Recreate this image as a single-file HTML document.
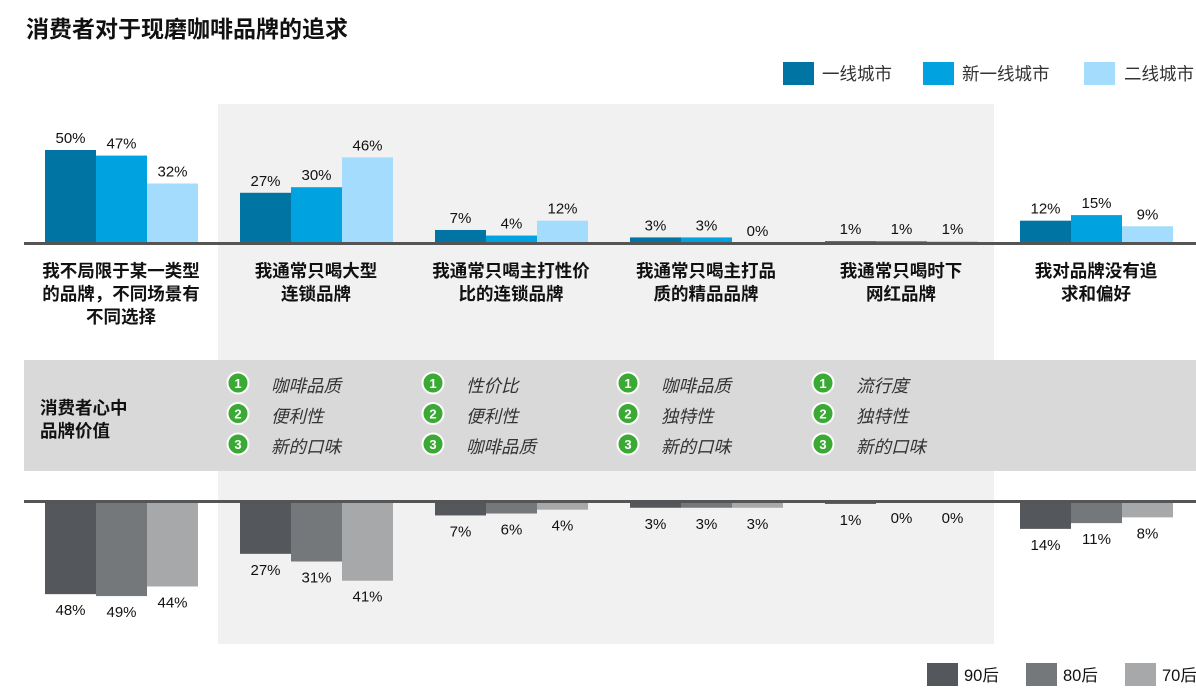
<!DOCTYPE html>
<html><head><meta charset="utf-8"><style>
html,body{margin:0;padding:0;background:#fff;}
svg{display:block;font-family:"Liberation Sans","Noto Sans CJK SC",sans-serif;}
</style></head><body>
<svg id="s" width="1196" height="700" xmlns="http://www.w3.org/2000/svg">
<rect x="218" y="104" width="776" height="540" fill="#f1f1f1"/>
<rect x="24" y="360" width="1172" height="111" fill="#d9d9d9"/>
<text x="26" y="37" font-size="23" font-weight="bold" fill="#111">消费者对于现磨咖啡品牌的追求</text>
<g font-size="17.5" fill="#333">
<rect x="783" y="62" width="31" height="23" fill="#0074a2"/><text x="822" y="80">一线城市</text>
<rect x="923" y="62" width="31" height="23" fill="#00a2e0"/><text x="962" y="80">新一线城市</text>
<rect x="1084" y="62" width="31" height="23" fill="#a3dcfc"/><text x="1124" y="80">二线城市</text>
<rect x="927" y="663" width="31" height="23" fill="#54575b"/><text x="964" y="681" fill="#111" font-size="16.5">90后</text>
<rect x="1026" y="663" width="31" height="23" fill="#75787b"/><text x="1063" y="681" fill="#111" font-size="16.5">80后</text>
<rect x="1125" y="663" width="31" height="23" fill="#a7a8aa"/><text x="1162" y="681" fill="#111" font-size="16.5">70后</text>
</g>
<g font-size="17.5" font-weight="bold" fill="#111">
<text x="40" y="414">消费者心中</text><text x="40" y="437">品牌价值</text>
</g>
<g id="bars"></g>
<rect x="24" y="242" width="1172" height="3" fill="#555"/>
<rect x="24" y="500" width="1172" height="3" fill="#555"/>
</svg>
<script>
var g=document.getElementById('bars'),h='';
var top_=[[50,47,32],[27,30,46],[7,4,12],[3,3,0],[1,1,1],[12,15,9]];
var bot=[[48,49,44],[27,31,41],[7,6,4],[3,3,3],[1,0,0],[14,11,8]];
var tc=["#0074a2","#00a2e0","#a3dcfc"],bc=["#54575b","#75787b","#a7a8aa"];
var cats=[["我不局限于某一类型","的品牌，不同场景有","不同选择"],["我通常只喝大型","连锁品牌"],["我通常只喝主打性价","比的连锁品牌"],["我通常只喝主打品","质的精品品牌"],["我通常只喝时下","网红品牌"],["我对品牌没有追","求和偏好"]];
for(var i=0;i<6;i++){
 var x0=45+i*195;
 for(var j=0;j<3;j++){
  var x=x0+j*51, v=top_[i][j], hh=v*1.86, y=243-hh;
  h+='<rect x="'+x+'" y="'+y+'" width="51" height="'+hh+'" fill="'+tc[j]+'"/>';
  h+='<text x="'+(x+25.5)+'" y="'+(y-7)+'" font-size="15" fill="#111" text-anchor="middle">'+v+'%</text>';
  var b=bot[i][j], bh=b*1.92;
  h+='<rect x="'+x+'" y="502" width="51" height="'+bh+'" fill="'+bc[j]+'"/>';
  h+='<text x="'+(x+25.5)+'" y="'+(502+bh+21)+'" font-size="15" fill="#111" text-anchor="middle">'+b+'%</text>';
 }
 for(var k=0;k<cats[i].length;k++)
  h+='<text x="'+(x0+76)+'" y="'+(277+k*23)+'" font-size="17.5" font-weight="bold" fill="#111" text-anchor="middle">'+cats[i][k]+'</text>';
}
var vals=[["咖啡品质","便利性","新的口味"],["性价比","便利性","咖啡品质"],["咖啡品质","独特性","新的口味"],["流行度","独特性","新的口味"]];
for(var c=0;c<4;c++){
 var cx=238+c*195;
 for(var r=0;r<3;r++){
  var cy=383+r*30.5;
  h+='<circle cx="'+cx+'" cy="'+cy+'" r="10.5" fill="#3aaa35" stroke="#fff" stroke-width="2"/>';
  h+='<text x="'+cx+'" y="'+(cy+5)+'" font-size="13" font-weight="bold" fill="#fff" text-anchor="middle">'+(r+1)+'</text>';
  h+='<text x="'+(cx+33)+'" y="'+(cy+9)+'" font-size="17.5" font-style="italic" fill="#333">'+vals[c][r]+'</text>';
 }
}
g.innerHTML=h;
</script>
</body></html>
